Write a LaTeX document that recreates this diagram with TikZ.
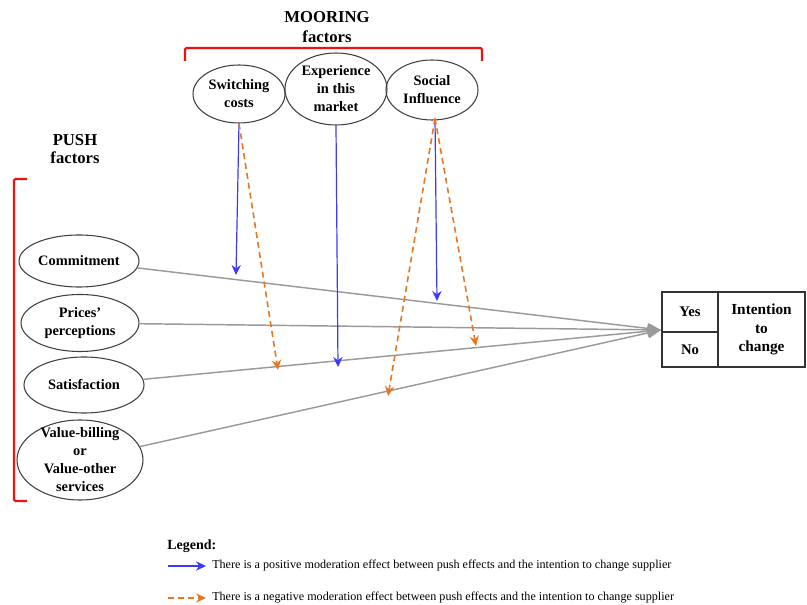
\documentclass[tikz,border=0pt]{standalone}
\usepackage{fontspec}
\setmainfont{Liberation Serif}
\usetikzlibrary{arrows.meta,shapes.geometric,calc}
\definecolor{posblue}{HTML}{3B3BF5}
\definecolor{negorange}{HTML}{E87722}
\definecolor{linegray}{HTML}{9A9A9A}
\definecolor{redbr}{HTML}{EE1111}
\begin{document}
\begin{tikzpicture}[x=0.75pt,y=-0.75pt,
  factor/.style={ellipse,draw=black!75,line width=0.8pt,inner sep=0pt},
  ftext/.style={align=center,inner sep=0pt,font=\fontsize{10.8}{13.5}\selectfont\bfseries},
  title/.style={align=center,inner sep=0pt,font=\fontsize{12.5}{15.5}\selectfont\bfseries},
  cell/.style={rectangle,draw=black!80,line width=0.9pt,inner sep=0pt,align=center},
  pushline/.style={draw=linegray,line width=1.1pt,-{Triangle[length=10pt,width=8pt]}},
  posarrow/.style={draw=posblue,line width=0.9pt,-{Stealth[length=7.5pt,width=7pt,inset=2.5pt]}},
  negarrow/.style={draw=negorange,line width=1.2pt,dash pattern=on 4.5pt off 3pt,-{Stealth[length=7.5pt,width=7pt,inset=2.5pt]}},
  bracket/.style={draw=redbr,line width=1.6pt,rounded corners=1pt},
  legtext/.style={anchor=west,inner sep=0pt,font=\fontsize{9.1}{11}\selectfont}
]
\useasboundingbox (0,0) rectangle (807,605);

% titles
\node[title] (moor) at (327,27) {MOORING\\factors};
\node[title,font=\fontsize{12.5}{13.5}\selectfont\bfseries] (push) at (75,149) {PUSH\\factors};

% brackets
\draw[bracket] (185,61) -- (185,48) -- (482,48) -- (482,61);
\draw[bracket] (27,179) -- (14,179) -- (14,501) -- (27,501);

% mooring ellipses
\node[factor,minimum width=69pt,minimum height=43.5pt] (sw) at (239,94) {};
\node[ftext] (swT) at (sw) {Switching\\costs};
\node[factor,minimum width=76.5pt,minimum height=54pt] (exp) at (336,89) {};
\node[ftext] (expT) at (exp) {Experience\\in this\\market};
\node[factor,minimum width=69pt,minimum height=45pt] (soc) at (432,90) {};
\node[ftext] (socT) at (soc) {Social\\Influence};

% push ellipses
\node[factor,minimum width=90pt,minimum height=39pt] (comm) at (79,261) {};
\node[ftext] (commT) at (comm) {Commitment};
\node[factor,minimum width=88.5pt,minimum height=42.75pt] (price) at (80,323) {};
\node[ftext] (priceT) at (price) {Prices’\\perceptions};
\node[factor,minimum width=90pt,minimum height=42pt] (sat) at (84,385) {};
\node[ftext] (satT) at (sat) {Satisfaction};
\node[factor,minimum width=94.5pt,minimum height=60pt] (val) at (80,460) {};
\node[ftext] (valT) at (val) {Value-billing\\or\\Value-other\\services};

% outcome box
\node[cell,minimum width=42pt,minimum height=30pt,font=\fontsize{11}{13}\selectfont\bfseries] (yes) at (690,312) {Yes};
\node[cell,minimum width=42pt,minimum height=26.25pt,font=\fontsize{11}{13}\selectfont\bfseries] (no) at (690,349.5) {No};
\node[cell,minimum width=65.25pt,minimum height=56.25pt,font=\fontsize{11.5}{14}\selectfont\bfseries] (intent) at (761.5,329.5) {Intention\\to\\change};

\coordinate (tip) at (661,330);

% push lines
\draw[pushline] (comm) -- (tip);
\draw[pushline] (price) -- (tip);
\draw[pushline] (sat) -- (tip);
\draw[pushline] (val) -- (tip);

% moderation end points
\coordinate (m1) at (236,275);
\coordinate (m2) at (278,370);
\coordinate (m3) at (338,367);
\coordinate (m4) at (437,301);
\coordinate (m5) at (388,396);
\coordinate (m6) at (476,346);

\draw[posarrow] (sw.south) -- (m1);
\draw[negarrow] (sw.south) -- (m2);
\draw[posarrow] (exp.south) -- (m3);
\draw[posarrow] ($(soc.south)+(3,-2)$) -- (m4);
\draw[negarrow] ($(soc.south)+(3,-2)$) -- (m5);
\draw[negarrow] ($(soc.south)+(3,-2)$) -- (m6);

% legend
\node[anchor=west,inner sep=0pt,font=\fontsize{10.5}{12}\selectfont\bfseries] (leg) at (167,546) {Legend:};
\coordinate (lb1) at (168,566);
\coordinate (lb2) at (206,566);
\coordinate (lo1) at (168,598);
\coordinate (lo2) at (206,598);
\draw[posarrow] (lb1) -- (lb2);
\draw[negarrow] (lo1) -- (lo2);
\node[legtext] (legp) at (212,566) {There is a positive moderation effect between push effects and the intention to change supplier};
\node[legtext] (legn) at (212,598) {There is a negative moderation effect between push effects and the intention to change supplier};
\end{tikzpicture}
\end{document}
